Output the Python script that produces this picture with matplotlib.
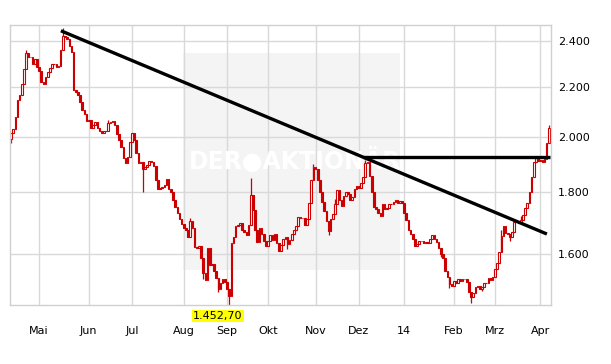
import matplotlib
matplotlib.use("Agg")
import matplotlib.pyplot as plt
from matplotlib.ticker import NullLocator
from matplotlib.patches import Rectangle

# daily closes (one candle per trading day, Apr 2013 - Apr 2014)
closes = [
    2015, 2030, 2077, 2145, 2166, 2212, 2276, 2346, 2328, 2328,
    2298, 2320, 2285, 2267, 2220, 2212, 2241, 2263, 2280, 2298,
    2298, 2285, 2289, 2360, 2424, 2419, 2410, 2378, 2351, 2187,
    2178, 2166, 2137, 2105, 2089, 2061, 2065, 2034, 2046, 2057,
    2034, 2022, 2015, 2022, 2022, 2053, 2057, 2061, 2046, 2011,
    1988, 1962, 1921, 1903, 1925, 1981, 2015, 1988, 1939, 1903,
    1906, 1881, 1888, 1896, 1910, 1906, 1892, 1842, 1811, 1814,
    1818, 1825, 1846, 1811, 1800, 1773, 1750, 1730, 1710, 1694,
    1681, 1675, 1653, 1704, 1681, 1621, 1618, 1625, 1588, 1543,
    1523, 1618, 1567, 1570, 1549, 1528, 1497, 1514, 1526, 1517,
    1497, 1477, 1634, 1653, 1688, 1691, 1697, 1675, 1668, 1659,
    1691, 1790, 1740, 1675, 1637, 1681, 1662, 1640, 1625, 1640,
    1659, 1643, 1662, 1634, 1609, 1628, 1646, 1653, 1631, 1643,
    1662, 1675, 1688, 1717, 1714, 1714, 1691, 1710, 1763, 1842,
    1888, 1881, 1842, 1800, 1767, 1736, 1704, 1672, 1710, 1727,
    1760, 1808, 1773, 1753, 1787, 1800, 1794, 1773, 1783, 1811,
    1821, 1814, 1832, 1853, 1903, 1906, 1856, 1800, 1750, 1743,
    1730, 1720, 1760, 1743, 1747, 1760, 1760, 1767, 1773, 1763,
    1770, 1763, 1730, 1707, 1675, 1662, 1646, 1625, 1631, 1640,
    1640, 1634, 1637, 1634, 1646, 1659, 1646, 1637, 1618, 1600,
    1588, 1549, 1531, 1511, 1505, 1520, 1514, 1526, 1520, 1526,
    1526, 1517, 1488, 1474, 1485, 1503, 1505, 1497, 1503, 1514,
    1514, 1528, 1523, 1531, 1555, 1573, 1606, 1656, 1688, 1665,
    1662, 1653, 1668, 1701, 1704, 1697, 1707, 1723, 1747, 1763,
    1800, 1853, 1906, 1921, 1910, 1914, 1906, 1917, 1975, 2034,
]
first_open = 1990
# notable wicks (candle index -> price)
wick_highs = {24: 2462, 111: 1849, 140: 1900, 164: 1915, 227: 1675, 249: 2045,
              7: 2360, 45: 2065, 83: 1715, 150: 1775, 236: 1720}
wick_lows = {0: 1977, 61: 1800, 89: 1525, 101: 1452.7, 203: 1500, 213: 1457,
             96: 1488, 128: 1615, 147: 1660, 199: 1590, 218: 1490, 231: 1640}

month_idx = [13, 36, 56, 80, 100, 119, 141, 161, 182, 205, 224, 245]
month_labels = ['Mai', 'Jun', 'Jul', 'Aug', 'Sep', 'Okt', 'Nov', 'Dez', '14', 'Feb', 'Mrz', 'Apr']
price_ticks = [1600, 1800, 2000, 2200, 2400]
price_labels = ['1.600', '1.800', '2.000', '2.200', '2.400']

trend_x = [23.1, 248.1]
trend_y = [2447, 1662]
resist_x = [163, 249.5]
resist_y = [1925, 1925]
low_label = '1.452,70'

red = '#cc0000'
fig = plt.figure(figsize=(6.11, 3.64), dpi=100)
ax = fig.add_axes([10 / 611, 59 / 364, 541 / 611, 280 / 364])
ax.set_yscale('log')

# watermark box + text
ax.add_patch(Rectangle((0.32, 0.125), 0.40, 0.775, transform=ax.transAxes,
                       facecolor='#f4f4f4', edgecolor='none', zorder=0))
ax.text(0.527, 0.515, 'DER\u25CFAKTIONÄR', transform=ax.transAxes, ha='center', va='center',
        fontsize=17, fontweight='bold', color='white', zorder=1.5)

opens = [first_open] + closes[:-1]
xs = list(range(len(closes)))
for i in xs:
    o, c = opens[i], closes[i]
    lo, hi = min(o, c), max(o, c)
    wl = min(lo, wick_lows.get(i, lo))
    wh = max(hi, wick_highs.get(i, hi))
    if wl < lo or wh > hi:
        ax.vlines(i, wl, wh, color=red, lw=0.9, zorder=2)
    face = 'white' if c > o else red
    ax.bar(i, hi - lo, bottom=lo, width=0.75, facecolor=face, edgecolor=red,
           linewidth=0.8, zorder=2.2)

ax.plot(trend_x, trend_y, color='black', lw=2.4, zorder=3, solid_capstyle='butt')
ax.plot(resist_x, resist_y, color='black', lw=2.4, zorder=3, solid_capstyle='butt')

ax.set_xlim(-0.46, 250)
ax.set_ylim(1452, 2474)
ax.yaxis.set_minor_locator(NullLocator())
ax.set_yticks(price_ticks)
ax.set_yticklabels(price_labels)
ax.set_xticks(month_idx)
ax.set_xticklabels(month_labels)
ax.yaxis.tick_right()
ax.tick_params(axis='both', length=0, labelsize=8, colors='black')
ax.tick_params(axis='x', pad=15)
ax.tick_params(axis='y', pad=5)
ax.grid(True, color='#d9d9d9', lw=1, zorder=1)
ax.set_axisbelow(True)
for s in ax.spines.values():
    s.set_color('#d0d0d0')
    s.set_linewidth(1)

ax.annotate(low_label, xy=(101, 1452.7), xytext=(-8, -8), textcoords='offset points',
            ha='center', va='center', fontsize=8, annotation_clip=False,
            bbox=dict(boxstyle='square,pad=0.1', facecolor='#ffff00', edgecolor='none'))

fig.savefig('out.png', dpi=100)
